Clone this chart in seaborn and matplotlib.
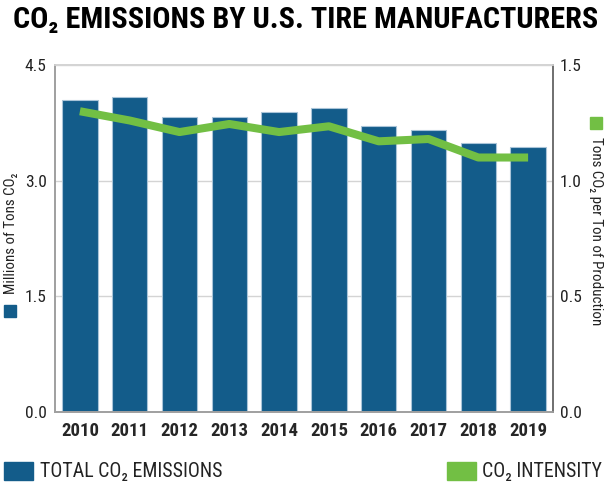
"""CO2 emissions by U.S. tire manufacturers: bars + intensity line."""
import matplotlib
matplotlib.use("Agg")
import matplotlib.pyplot as plt
import seaborn as sns
import pandas as pd
from matplotlib.patches import Rectangle

# ── data ────────────────────────────────────────────────────────────────
years = ["2010", "2011", "2012", "2013", "2014",
         "2015", "2016", "2017", "2018", "2019"]
total_emissions = [4.05, 4.08, 3.83, 3.82, 3.89, 3.94, 3.71, 3.66, 3.49, 3.43]
intensity = [1.30, 1.26, 1.21, 1.245, 1.21, 1.235, 1.17, 1.18, 1.10, 1.10]
left_ticks = [0.0, 1.5, 3.0, 4.5]
right_ticks = [0.0, 0.5, 1.0, 1.5]

BLUE = "#135c8a"
GREEN = "#72bf44"
H = 486
W = 612

sns.set_theme(style="white")
FONT = ["Roboto Condensed", "Roboto", "DejaVu Sans"]
plt.rcParams["font.family"] = FONT

df = pd.DataFrame({"year": years, "total": total_emissions, "intensity": intensity})

fig = plt.figure(figsize=(6.12, 4.86), dpi=100)
ax = fig.add_axes([0.0899, 0.1523, 0.8137, 0.714])
ax2 = ax.twinx()

sns.barplot(data=df, x="year", y="total", color=BLUE, width=0.71,
            edgecolor="#a9c4d8", linewidth=0.8, saturation=1, ax=ax)
sns.lineplot(data=df, x="year", y="intensity", color=GREEN, linewidth=5.8,
             solid_capstyle="butt", ax=ax2)

ax.set_xlim(-0.5, len(years) - 0.5)
ax.set_ylim(0, 4.5)
ax2.set_ylim(0, 1.5)
ax.set_yticks(left_ticks)
ax.set_yticklabels([f"{t:.1f}" for t in left_ticks])
ax2.set_yticks(right_ticks)
ax2.set_yticklabels([f"{t:.1f}" for t in right_ticks])

ax.yaxis.grid(True, color="#d4d4d4", linewidth=1)
ax.set_axisbelow(True)
ax.tick_params(axis="y", length=0, pad=6, labelsize=12.5, labelcolor="#222222")
ax.tick_params(axis="x", length=0, pad=7, labelsize=13.5)
ax2.tick_params(axis="y", length=0, pad=5, labelsize=12.5, labelcolor="#222222")
for lbl in ax.get_xticklabels():
    lbl.set_fontweight("bold")

ax.set_xlabel("")
ax.set_ylabel("")
ax2.set_ylabel("")
for a in (ax, ax2):
    a.spines["top"].set_color("#d4d4d4")
    a.spines["left"].set_color("#a0a0a0")
    a.spines["bottom"].set_color("#a0a0a0")
    a.spines["right"].set_color("#707070")

# axis titles with coloured square markers
fig.text(11 / W, 1 - 294 / H, "Millions of Tons CO\u2082", rotation=90,
         ha="center", va="bottom", fontsize=10.8, color="#222222")
fig.patches.append(Rectangle((4 / W, 1 - 317 / H), 12 / W, 12 / H,
                             transform=fig.transFigure, color=BLUE))
fig.text(596 / W, 1 - 137 / H, "Tons CO\u2082 per Ton of Production", rotation=270,
         ha="center", va="top", fontsize=10.8, color="#222222")
fig.patches.append(Rectangle((590 / W, 1 - 129 / H), 12 / W, 12 / H,
                             transform=fig.transFigure, color=GREEN))

# title
fig.text(0.5, 1 - 20 / H, "CO\u2082 EMISSIONS BY U.S. TIRE MANUFACTURERS", ha="center",
         va="center", fontsize=21.7, fontweight="bold", color="black")

# legend at the bottom
fig.patches.append(Rectangle((4 / W, 6 / H), 29 / W, 18 / H,
                             transform=fig.transFigure, color=BLUE))
fig.text(40 / W, 15 / H, "TOTAL CO\u2082 EMISSIONS", ha="left", va="center",
         fontsize=14.3, color="#222222")
fig.patches.append(Rectangle((447 / W, 6 / H), 29 / W, 18 / H,
                             transform=fig.transFigure, color=GREEN))
fig.text(482 / W, 15 / H, "CO\u2082 INTENSITY", ha="left", va="center",
         fontsize=14.3, color="#222222")

plt.savefig("out.png", dpi=100)
plt.close()
